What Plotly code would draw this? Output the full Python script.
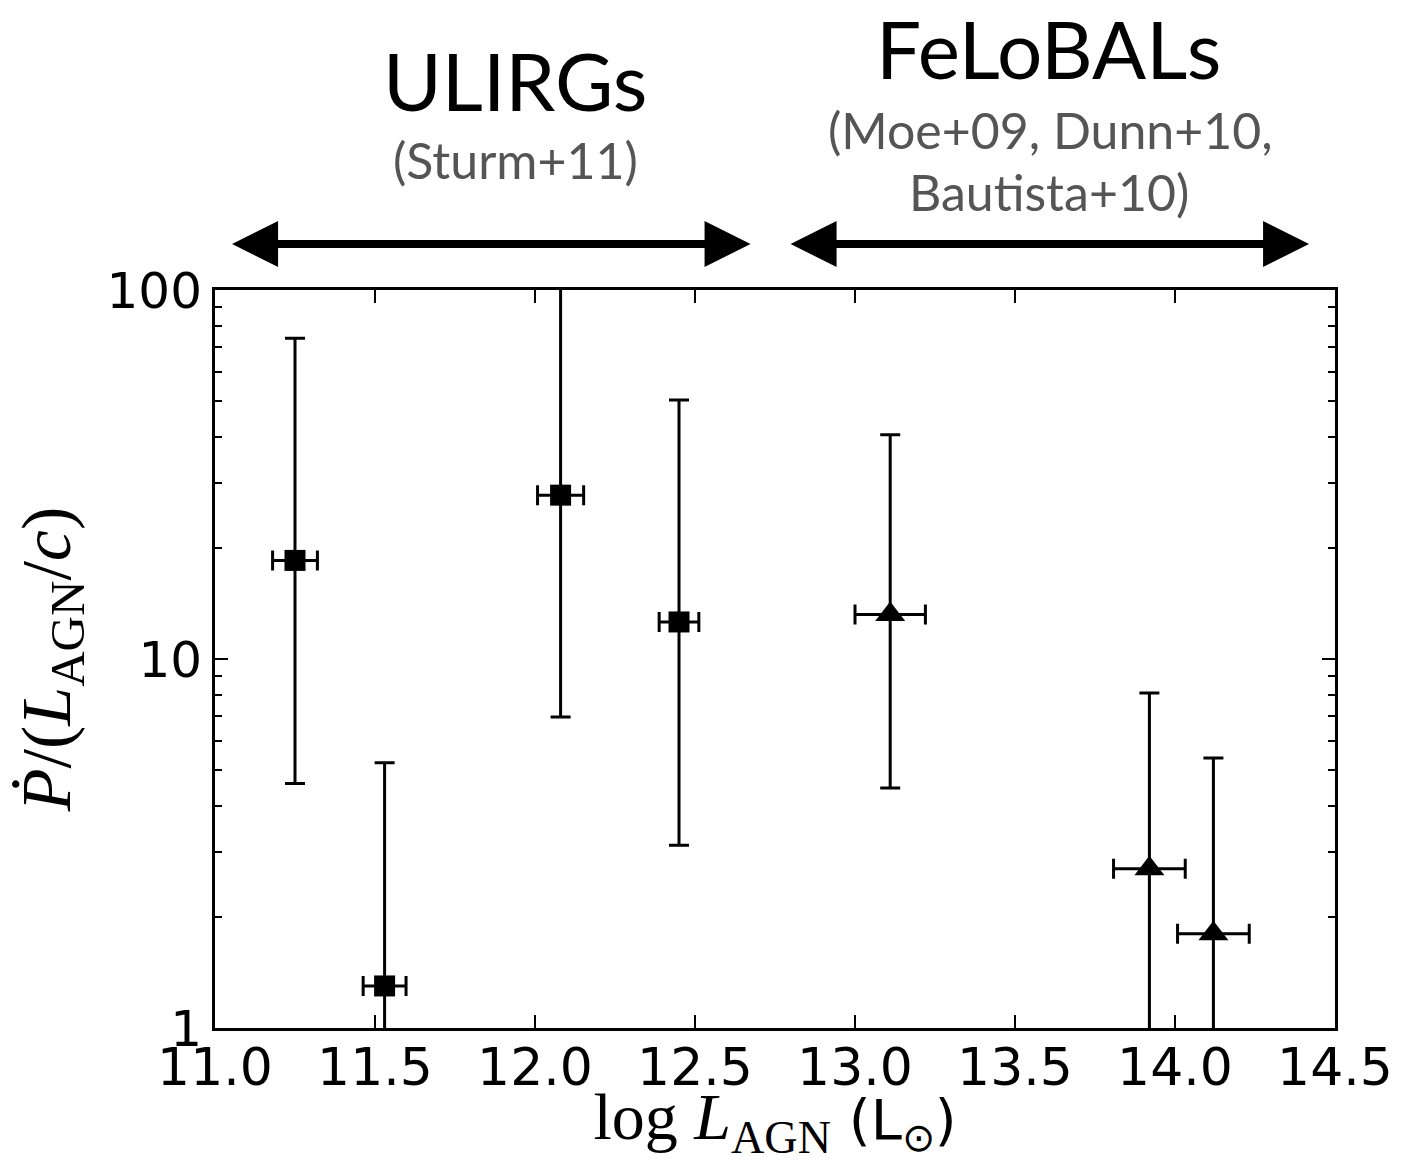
import plotly.graph_objects as go

# ULIRGs (Sturm+11) - squares
ul_x = [11.25, 11.53, 12.08, 12.45]
ul_xerr = [0.07, 0.067, 0.072, 0.062]
ul_y = [18.5, 1.30, 27.8, 12.6]
ul_yhi = [74.0, 5.23, 140.0, 50.3]
ul_ylo = [4.6, 0.5, 6.96, 3.13]

# FeLoBALs - triangles
fe_x = [13.11, 13.92, 14.12]
fe_xerr = [0.11, 0.112, 0.112]
fe_y = [13.2, 2.70, 1.80]
fe_yhi = [40.5, 8.09, 5.39]
fe_ylo = [4.47, 0.5, 0.5]

x_ticks = [11.0, 11.5, 12.0, 12.5, 13.0, 13.5, 14.0, 14.5]
y_ticks = [1, 10, 100]
y_minor = [2, 3, 4, 5, 6, 7, 8, 9, 20, 30, 40, 50, 60, 70, 80, 90]

fig = go.Figure()

def add_series(xs, xe, ys, yhi, ylo, symbol, size):
    fig.add_trace(go.Scatter(
        x=xs, y=ys, mode="markers",
        marker=dict(symbol=symbol, size=size, color="black"),
        error_x=dict(type="data", array=xe, color="black", thickness=3, width=10),
        error_y=dict(type="data", symmetric=False,
                     array=[h - y for h, y in zip(yhi, ys)],
                     arrayminus=[y - l for l, y in zip(ylo, ys)],
                     color="black", thickness=3, width=10),
        showlegend=False, cliponaxis=True,
    ))

add_series(ul_x, ul_xerr, ul_y, ul_yhi, ul_ylo, "square", 21)
add_series(fe_x, fe_xerr, fe_y, fe_yhi, fe_ylo, "triangle-up", 26)

L, R, T, B = 215, 67, 290, 135
W, H = 1405, 1163
pw, ph = W - L - R, H - T - B

def px(x):
    return (x - L) / pw

def py(y):
    return (H - B - y) / ph

grey = "#555555"
sans = "Lato"
fig.add_annotation(text="ULIRGs", x=px(516), y=py(80), xref="paper", yref="paper",
                   showarrow=False, font=dict(family=sans, size=80, color="black"),
                   xanchor="center", yanchor="middle")
fig.add_annotation(text="(Sturm+11)", x=px(516), y=py(160), xref="paper", yref="paper",
                   showarrow=False, font=dict(family=sans, size=50, color=grey),
                   xanchor="center", yanchor="middle")
fig.add_annotation(text="FeLoBALs", x=px(1051), y=py(48), xref="paper", yref="paper",
                   showarrow=False, font=dict(family=sans, size=80, color="black"),
                   xanchor="center", yanchor="middle")
fig.add_annotation(text="(Moe+09, Dunn+10,", x=px(1053), y=py(130), xref="paper", yref="paper",
                   showarrow=False, font=dict(family=sans, size=50, color=grey),
                   xanchor="center", yanchor="middle")
fig.add_annotation(text="Bautista+10)", x=px(1051), y=py(192), xref="paper", yref="paper",
                   showarrow=False, font=dict(family=sans, size=50, color=grey),
                   xanchor="center", yanchor="middle")

# double-headed arrows
for x0, x1 in [(232, 752), (792, 1312)]:
    fig.add_annotation(x=px(x1), y=py(244), xref="paper", yref="paper",
                       ax=-(x1 - x0), ay=0, axref="pixel", ayref="pixel",
                       showarrow=True, arrowhead=2, arrowside="end+start",
                       arrowwidth=8, arrowsize=1.15, arrowcolor="black", text="")

fig.update_xaxes(
    range=[11.0, 14.5], tickvals=x_ticks, ticktext=[f"{v:.1f}" for v in x_ticks],
    ticks="inside", ticklen=13, tickwidth=1.5, tickcolor="black",
    showline=True, linewidth=3, linecolor="black", mirror="allticks",
    showgrid=False, zeroline=False, ticklabelstandoff=-8,
    tickfont=dict(family="DejaVu Sans", size=52, color="black"),
    title=dict(text='<span style="font-family:\'Liberation Serif\'; font-size:66px">log <i>L</i><sub>AGN</sub></span> (L<sub>⊙</sub>)',
               font=dict(family="DejaVu Sans", size=56, color="black"), standoff=4),
)
fig.update_yaxes(
    type="log", range=[0, 2], tickvals=y_ticks, ticktext=["1", "10", "100"],
    ticks="inside", ticklen=13, tickwidth=1.5, tickcolor="black",
    minor=dict(tickvals=y_minor, ticks="inside", ticklen=7, tickwidth=1.5, tickcolor="black"),
    showline=True, linewidth=3, linecolor="black", mirror="allticks",
    showgrid=False, zeroline=False,
    tickfont=dict(family="DejaVu Sans", size=50, color="black"),
    title=dict(text="<i>Ṗ</i>/(<i>L</i><sub>AGN</sub>/<i>c</i>)",
               font=dict(family="Liberation Serif", size=70, color="black"), standoff=14),
)

fig.update_layout(
    width=W, height=H, autosize=False,
    margin=dict(l=L, r=R, t=T, b=B, pad=0),
    plot_bgcolor="white", paper_bgcolor="white",
)

fig.write_html("out.html")
